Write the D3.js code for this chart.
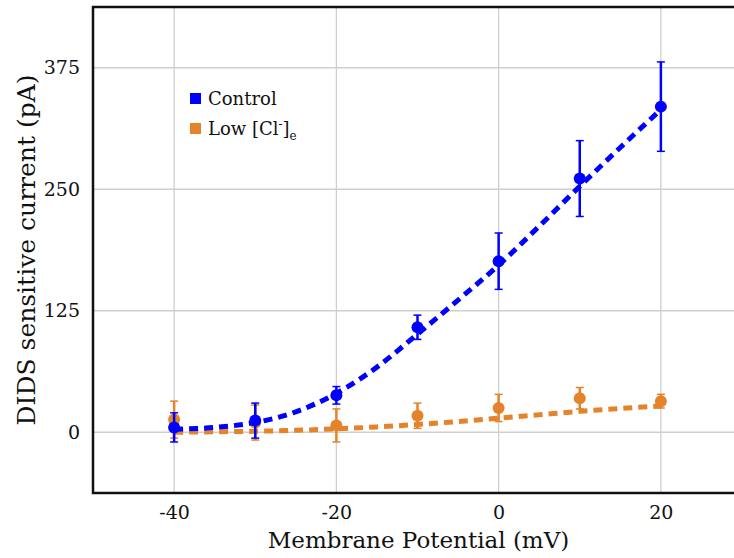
<!DOCTYPE html>
<html>
<head>
  <meta charset="utf-8">
  <script src="https://cdn.jsdelivr.net/npm/d3@7"></script>
  <style>
    body, html {
      margin: 0;
      padding: 0;
      background: white;
      overflow: hidden;
    }
    text {
      font-family: 'DejaVu Serif', serif;
      fill: #111;
    }
  </style>
</head>
<body>
  <svg id="chart" width="734" height="558"></svg>
  <script>
    // measured points (mV, pA)
    const voltages = [-40, -30, -20, -10, 0, 10, 20];
    const controlMean = [5, 12, 38, 108, 176, 261, 335];
    const controlErr = [15, 18, 9, 12.5, 29, 39, 46];
    const lowClMean = [13, 10, 7, 17, 25, 35, 32];
    const lowClErr = [19, 18, 17, 13, 14, 11, 7];

    // fitted curves
    const fitVoltages = [-40, -35, -30, -25, -20, -15, -10, -5, 0, 5, 10, 15, 20];
    const controlFit = [3, 5, 10, 21, 40, 67, 101, 136, 172, 212, 253, 293, 332];
    const lowClFit = [0, 0.5, 1, 2, 3.5, 5.5, 8, 11, 14.5, 18, 21.5, 24.5, 27];

    const xTicks = [-40, -20, 0, 20];
    const yTicks = [0, 125, 250, 375];

    const blue = "#0000ff";
    const orange = "#e5832a";

    const svg = d3.select("#chart");

    const x = d3.scaleLinear().domain([-50, 30]).range([93, 742]);
    const y = d3.scaleLinear().domain([-62.5, 437.5]).range([493, 7]);

    // grid
    svg.append("g")
      .selectAll("line")
      .data(xTicks)
      .join("line")
      .attr("x1", d => x(d)).attr("x2", d => x(d))
      .attr("y1", y.range()[1]).attr("y2", y.range()[0])
      .attr("stroke", "#cfcfcf")
      .attr("stroke-width", 1.3);

    svg.append("g")
      .selectAll("line")
      .data(yTicks)
      .join("line")
      .attr("x1", x.range()[0]).attr("x2", x.range()[1])
      .attr("y1", d => y(d)).attr("y2", d => y(d))
      .attr("stroke", "#cfcfcf")
      .attr("stroke-width", 1.3);

    // axes (labels only, frame drawn by hand below)
    const xAxis = svg.append("g")
      .attr("transform", `translate(0, ${y.range()[0]})`)
      .call(d3.axisBottom(x).tickValues(xTicks).tickFormat(d => String(d)).tickSize(0).tickPadding(13));
    const yAxis = svg.append("g")
      .attr("transform", `translate(${x.range()[0]}, 0)`)
      .call(d3.axisLeft(y).tickValues(yTicks).tickFormat(d => String(d)).tickSize(0).tickPadding(13));
    [xAxis, yAxis].forEach(a => {
      a.select(".domain").remove();
      a.selectAll("text")
        .style("font-family", "'DejaVu Serif', serif")
        .style("font-size", "19px")
        .attr("fill", "#111");
    });

    function drawSeries(mean, err, fit, color) {
      const line = d3.line()
        .x((d, i) => x(fitVoltages[i]))
        .y(d => y(d))
        .curve(d3.curveMonotoneX);

      svg.append("path")
        .datum(fit)
        .attr("d", line)
        .attr("fill", "none")
        .attr("stroke", color)
        .attr("stroke-width", 5)
        .attr("stroke-dasharray", "9,6");

      const g = svg.append("g");
      const pts = voltages.map((v, i) => ({ v: v, m: mean[i], e: err[i] }));

      g.selectAll(".bar")
        .data(pts)
        .join("line")
        .attr("class", "bar")
        .attr("x1", d => x(d.v)).attr("x2", d => x(d.v))
        .attr("y1", d => y(d.m - d.e)).attr("y2", d => y(d.m + d.e))
        .attr("stroke", color)
        .attr("stroke-width", 2.5);

      ["top", "bottom"].forEach(side => {
        g.selectAll(".cap-" + side)
          .data(pts)
          .join("line")
          .attr("class", "cap-" + side)
          .attr("x1", d => x(d.v) - 4).attr("x2", d => x(d.v) + 4)
          .attr("y1", d => y(side == "top" ? d.m + d.e : d.m - d.e))
          .attr("y2", d => y(side == "top" ? d.m + d.e : d.m - d.e))
          .attr("stroke", color)
          .attr("stroke-width", 1.5);
      });

      g.selectAll("circle")
        .data(pts)
        .join("circle")
        .attr("cx", d => x(d.v))
        .attr("cy", d => y(d.m))
        .attr("r", 6)
        .attr("fill", color);
    }

    drawSeries(lowClMean, lowClErr, lowClFit, orange);
    drawSeries(controlMean, controlErr, controlFit, blue);

    // frame
    svg.append("rect")
      .attr("x", x.range()[0])
      .attr("y", y.range()[1])
      .attr("width", x.range()[1] - x.range()[0])
      .attr("height", y.range()[0] - y.range()[1])
      .attr("fill", "none")
      .attr("stroke", "#111")
      .attr("stroke-width", 2.5);

    // legend
    const legend = svg.append("g").attr("transform", "translate(190, 93)");
    legend.append("rect").attr("x", 0).attr("y", 0).attr("width", 11).attr("height", 11).attr("fill", blue);
    legend.append("text").attr("x", 18).attr("y", 11.5)
      .style("font-size", "18px").text("Control");
    legend.append("rect").attr("x", 0).attr("y", 30).attr("width", 11).attr("height", 11).attr("fill", orange);
    const lowText = legend.append("text").attr("x", 18).attr("y", 42)
      .style("font-size", "18px");
    lowText.append("tspan").text("Low [Cl");
    lowText.append("tspan").attr("dy", -7).style("font-size", "12px").text("-");
    lowText.append("tspan").attr("dy", 7).text("]");
    lowText.append("tspan").attr("dy", 5).style("font-size", "12px").text("e");

    // axis titles
    svg.append("text")
      .attr("x", (x.range()[0] + x.range()[1]) / 2 + 1)
      .attr("y", 548)
      .attr("text-anchor", "middle")
      .style("font-size", "23px")
      .text("Membrane Potential (mV)");

    svg.append("text")
      .attr("transform", `translate(35, ${(y.range()[0] + y.range()[1]) / 2}) rotate(-90)`)
      .attr("text-anchor", "middle")
      .style("font-size", "25px")
      .text("DIDS sensitive current (pA)");
  </script>
</body>
</html>
